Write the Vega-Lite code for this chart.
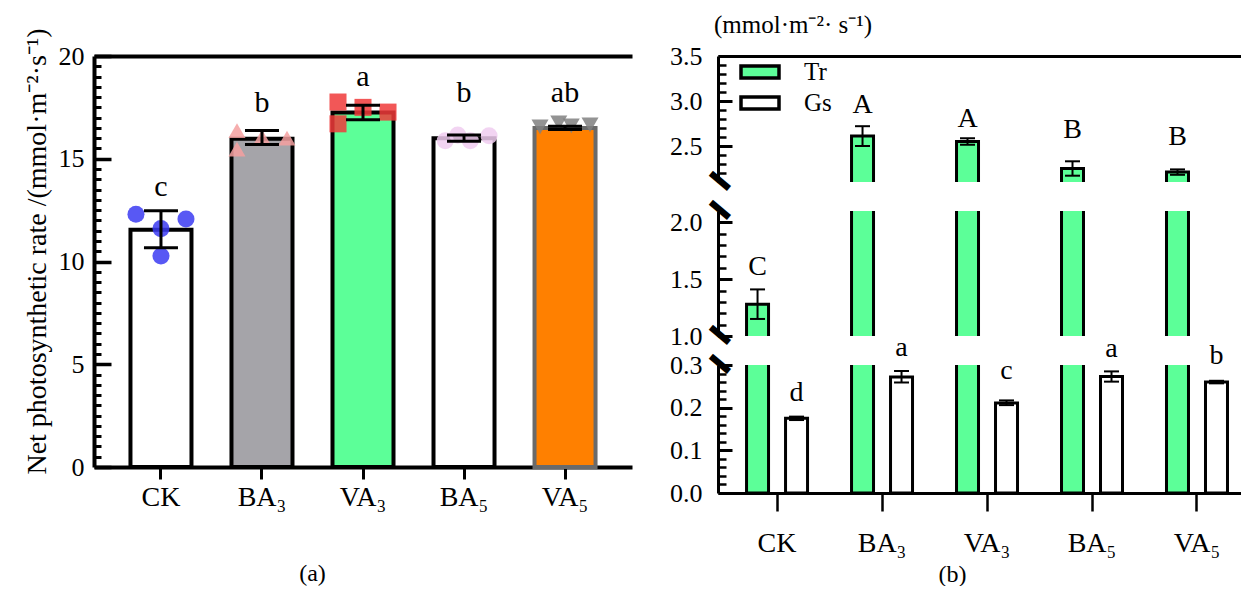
{
  "$schema": "https://vega.github.io/schema/vega-lite/v6.json",
  "background": "white",
  "padding": {"left": 22, "top": 13, "right": 0, "bottom": 0},
  "config": {
    "font": "Liberation Serif",
    "view": {"stroke": null},
    "axis": {"labelFont": "Liberation Serif", "titleFont": "Liberation Serif", "labelColor": "black", "titleColor": "black", "domainColor": "black", "tickColor": "black", "grid": false, "titleFontWeight": "normal", "labelFlush": false}
  },
  "datasets": {
    "ps": [
      {"trt": "CK", "mean": 11.55, "lo": 10.67, "hi": 12.47, "lab": 13.2, "sig": "c"},
      {"trt": "BA₃", "mean": 15.97, "lo": 15.69, "hi": 16.37, "lab": 17.27, "sig": "b"},
      {"trt": "VA₃", "mean": 17.25, "lo": 16.9, "hi": 17.6, "lab": 18.54, "sig": "a"},
      {"trt": "BA₅", "mean": 16.0, "lo": 15.85, "hi": 16.15, "lab": 17.76, "sig": "b"},
      {"trt": "VA₅", "mean": 16.5, "lo": 16.42, "hi": 16.58, "lab": 17.76, "sig": "ab"}
    ],
    "pts": [
      {"trt": "CK", "slot": "a", "val": 12.3},
      {"trt": "CK", "slot": "e", "val": 11.6},
      {"trt": "CK", "slot": "e", "val": 10.27},
      {"trt": "CK", "slot": "i", "val": 12.07},
      {"trt": "BA₃", "slot": "a", "val": 16.37},
      {"trt": "BA₃", "slot": "a", "val": 15.47},
      {"trt": "BA₃", "slot": "e", "val": 16.06},
      {"trt": "BA₃", "slot": "i", "val": 16.0},
      {"trt": "VA₃", "slot": "a", "val": 17.76},
      {"trt": "VA₃", "slot": "a", "val": 16.7},
      {"trt": "VA₃", "slot": "e", "val": 17.5},
      {"trt": "VA₃", "slot": "i", "val": 17.27},
      {"trt": "BA₅", "slot": "b", "val": 15.88},
      {"trt": "BA₅", "slot": "d", "val": 16.15},
      {"trt": "BA₅", "slot": "f", "val": 15.88},
      {"trt": "BA₅", "slot": "i", "val": 16.12},
      {"trt": "VA₅", "slot": "a", "val": 16.55},
      {"trt": "VA₅", "slot": "d", "val": 16.75},
      {"trt": "VA₅", "slot": "f", "val": 16.6},
      {"trt": "VA₅", "slot": "i", "val": 16.65}
    ],
    "rt": [
      {"trt": "CK", "series": "Tr", "val": 1.28, "lo": 1.15, "hi": 1.41, "lab": 1.533, "sig": "C"},
      {"trt": "BA₃", "series": "Tr", "val": 2.61, "lo": 2.5, "hi": 2.72, "lab": 2.863, "sig": "A"},
      {"trt": "VA₃", "series": "Tr", "val": 2.55, "lo": 2.515, "hi": 2.585, "lab": 2.716, "sig": "A"},
      {"trt": "BA₅", "series": "Tr", "val": 2.25, "lo": 2.17, "hi": 2.33, "lab": 2.586, "sig": "B"},
      {"trt": "VA₅", "series": "Tr", "val": 2.21, "lo": 2.18, "hi": 2.24, "lab": 2.511, "sig": "B"},
      {"trt": "CK", "series": "Gs", "val": 0.175, "lo": 0.171, "hi": 0.179, "lab": 0.216, "sig": "d"},
      {"trt": "BA₃", "series": "Gs", "val": 0.272, "lo": 0.259, "hi": 0.286, "lab": 0.322, "sig": "a"},
      {"trt": "VA₃", "series": "Gs", "val": 0.211, "lo": 0.206, "hi": 0.217, "lab": 0.267, "sig": "c"},
      {"trt": "BA₅", "series": "Gs", "val": 0.273, "lo": 0.261, "hi": 0.285, "lab": 0.318, "sig": "a"},
      {"trt": "VA₅", "series": "Gs", "val": 0.26, "lo": 0.257, "hi": 0.263, "lab": 0.302, "sig": "b"}
    ]
  },
  "hconcat": [
    {
      "width": 538,
      "height": 411,
      "layer": [
        {
          "data": {"name": "ps"},
          "mark": {"type": "bar", "strokeWidth": 4},
          "encoding": {
            "x": {"field": "trt", "type": "nominal", "sort": ["CK", "BA₃", "VA₃", "BA₅", "VA₅"], "scale": {"paddingInner": 0.396, "paddingOuter": 0.361},
              "axis": {"orient": "bottom", "labelAngle": 0, "labelFontSize": 28, "labelPadding": 4, "tickSize": 12, "tickWidth": 3, "domainWidth": 4, "title": "(a)", "titleX": 218, "titleY": 113, "titleAlign": "center", "titleBaseline": "alphabetic", "titleFontSize": 24}},
            "y": {"field": "mean", "type": "quantitative", "scale": {"domain": [0, 20], "nice": false},
              "axis": {"orient": "left", "values": [0, 5, 10, 15, 20], "tickSize": -17, "tickWidth": 3.5, "domainWidth": 4, "labelFontSize": 26, "labelPadding": 27, "title": "Net photosynthetic rate /(mmol·m⁻²·s⁻¹)", "titleFontSize": 28, "titleX": -57, "titleY": 195, "titleAlign": "center", "titleBaseline": "middle", "titleAngle": 270}},
            "fill": {"field": "trt", "type": "nominal", "scale": {"domain": ["CK", "BA₃", "VA₃", "BA₅", "VA₅"], "range": ["#FFFFFF", "#A5A4A9", "#5CFF98", "#FFFFFF", "#FF8000"]}, "legend": null},
            "stroke": {"field": "trt", "type": "nominal", "scale": {"domain": ["CK", "BA₃", "VA₃", "BA₅", "VA₅"], "range": ["#000000", "#000000", "#000000", "#000000", "#6A6A6A"]}, "legend": null}
          }
        },
        {
          "data": {"name": "pts"},
          "mark": {"type": "point", "filled": true, "size": 290, "opacity": 0.85},
          "encoding": {
            "x": {"field": "trt", "type": "nominal", "sort": ["CK", "BA₃", "VA₃", "BA₅", "VA₅"], "axis": null},
            "xOffset": {"field": "slot", "type": "nominal", "sort": ["a", "b", "c", "d", "e", "f", "g", "h", "i"], "scale": {"type": "point", "domain": ["a", "b", "c", "d", "e", "f", "g", "h", "i"], "padding": 0.88}},
            "y": {"field": "val", "type": "quantitative", "axis": null},
            "color": {"field": "trt", "type": "nominal", "scale": {"domain": ["CK", "BA₃", "VA₃", "BA₅", "VA₅"], "range": ["#3B3BF2", "#F4A0A0", "#F03A3A", "#F0CCF0", "#808080"]}, "legend": null},
            "shape": {"field": "trt", "type": "nominal", "scale": {"domain": ["CK", "BA₃", "VA₃", "BA₅", "VA₅"], "range": ["circle", "triangle-up", "square", "circle", "triangle-down"]}, "legend": null}
          }
        },
        {
          "data": {"name": "ps"},
          "mark": {"type": "rule", "strokeWidth": 3, "color": "black"},
          "encoding": {
            "x": {"field": "trt", "type": "nominal", "sort": ["CK", "BA₃", "VA₃", "BA₅", "VA₅"], "axis": null},
            "y": {"field": "lo", "type": "quantitative", "axis": {"orient": "left", "values": [0.5, 1, 1.5, 2, 2.5, 3, 3.5, 4, 4.5, 5.5, 6, 6.5, 7, 7.5, 8, 8.5, 9, 9.5, 10.5, 11, 11.5, 12, 12.5, 13, 13.5, 14, 14.5, 15.5, 16, 16.5, 17, 17.5, 18, 18.5, 19, 19.5], "labels": false, "domain": false, "tickSize": -7, "tickWidth": 3, "title": null}},
            "y2": {"field": "hi"}
          }
        },
        {
          "data": {"name": "ps"},
          "mark": {"type": "tick", "thickness": 3, "size": 34, "color": "black", "opacity": 1},
          "encoding": {
            "x": {"field": "trt", "type": "nominal", "sort": ["CK", "BA₃", "VA₃", "BA₅", "VA₅"], "axis": null},
            "y": {"field": "hi", "type": "quantitative", "axis": null}
          }
        },
        {
          "data": {"name": "ps"},
          "mark": {"type": "tick", "thickness": 3, "size": 34, "color": "black", "opacity": 1},
          "encoding": {
            "x": {"field": "trt", "type": "nominal", "sort": ["CK", "BA₃", "VA₃", "BA₅", "VA₅"], "axis": null},
            "y": {"field": "lo", "type": "quantitative", "axis": null}
          }
        },
        {
          "data": {"name": "ps"},
          "mark": {"type": "text", "fontSize": 30, "baseline": "alphabetic", "color": "black", "font": "Liberation Serif"},
          "encoding": {
            "x": {"field": "trt", "type": "nominal", "sort": ["CK", "BA₃", "VA₃", "BA₅", "VA₅"], "axis": {"orient": "top", "labels": false, "ticks": false, "title": null, "domainWidth": 4}},
            "y": {"field": "lab", "type": "quantitative", "axis": null},
            "text": {"field": "sig"}
          }
        }
      ],
      "resolve": {"axis": {"x": "independent", "y": "independent"}, "scale": {"xOffset": "independent"}}
    },
    {
      "vconcat": [
        {
          "width": 524,
          "height": 126,
          "title": {"text": "(mmol·m⁻²· s⁻¹)", "anchor": "start", "frame": "group", "fontSize": 25, "font": "Liberation Serif", "fontWeight": "normal", "offset": 5, "dx": -4, "color": "black"},
          "data": {"name": "rt"},
          "layer": [
            {
              "transform": [{"filter": {"field": "series", "equal": "Tr"}}],
              "mark": {"type": "bar", "clip": true, "stroke": "black", "strokeWidth": 3},
              "encoding": {
                "x": {"field": "trt", "type": "nominal", "sort": ["CK", "BA₃", "VA₃", "BA₅", "VA₅"], "scale": {"paddingInner": 0.419, "paddingOuter": 0.205, "align": 0.663},
                  "axis": {"orient": "top", "labels": false, "ticks": false, "title": null, "domainWidth": 3}},
                "xOffset": {"field": "series", "type": "nominal", "sort": ["Tr", "Gs"], "scale": {"paddingInner": 0.436, "paddingOuter": 0}},
                "y": {"field": "val", "type": "quantitative", "scale": {"domain": [2.1, 3.5], "zero": false, "nice": false},
                  "axis": {"orient": "left", "values": [2.5, 3.0, 3.5], "format": ".1f", "tickSize": -14, "tickWidth": 3, "domainWidth": 3, "labelFontSize": 26, "labelPadding": 30, "title": null}},
                "y2": {"datum": 0},
                "fill": {"field": "series", "type": "nominal", "scale": {"domain": ["Tr", "Gs"], "range": ["#5CFF98", "#FFFFFF"]},
                  "legend": {"title": null, "orient": "none", "legendX": 27.5, "legendY": 1.5, "symbolType": "M-1.52,-0.48H1.52V0.48H-1.52Z", "symbolSize": 625, "symbolStrokeColor": "black", "symbolStrokeWidth": 3.5, "labelFontSize": 25, "labelFont": "Liberation Serif", "labelColor": "black", "labelOffset": 29.5, "rowPadding": 3, "padding": 0}}
              }
            },
            {
              "mark": {"type": "rule", "clip": true, "strokeWidth": 2, "color": "black"},
              "encoding": {
                "x": {"field": "trt", "type": "nominal", "sort": ["CK", "BA₃", "VA₃", "BA₅", "VA₅"], "axis": null},
                "xOffset": {"field": "series", "type": "nominal", "sort": ["Tr", "Gs"]},
                "y": {"field": "lo", "type": "quantitative", "axis": {"orient": "left", "values": [2.2, 2.3, 2.4, 2.6, 2.7, 2.8, 2.9, 3.1, 3.2, 3.3, 3.4], "labels": false, "domain": false, "tickSize": -8, "tickWidth": 2.5, "title": null}},
                "y2": {"field": "hi"}
              }
            },
            {
              "mark": {"type": "tick", "clip": true, "thickness": 2, "size": 15, "color": "black", "opacity": 1},
              "encoding": {
                "x": {"field": "trt", "type": "nominal", "sort": ["CK", "BA₃", "VA₃", "BA₅", "VA₅"], "axis": null},
                "xOffset": {"field": "series", "type": "nominal", "sort": ["Tr", "Gs"]},
                "y": {"field": "hi", "type": "quantitative", "axis": null}
              }
            },
            {
              "mark": {"type": "tick", "clip": true, "thickness": 2, "size": 15, "color": "black", "opacity": 1},
              "encoding": {
                "x": {"field": "trt", "type": "nominal", "sort": ["CK", "BA₃", "VA₃", "BA₅", "VA₅"], "axis": null},
                "xOffset": {"field": "series", "type": "nominal", "sort": ["Tr", "Gs"]},
                "y": {"field": "lo", "type": "quantitative", "axis": null}
              }
            },
            {
              "transform": [{"filter": {"field": "lab", "range": [2.1, 3.6]}}],
              "mark": {"type": "text", "fontSize": 28, "baseline": "alphabetic", "color": "black", "font": "Liberation Serif"},
              "encoding": {
                "x": {"field": "trt", "type": "nominal", "sort": ["CK", "BA₃", "VA₃", "BA₅", "VA₅"], "axis": null},
                "xOffset": {"field": "series", "type": "nominal", "sort": ["Tr", "Gs"]},
                "y": {"field": "lab", "type": "quantitative", "axis": {"orient": "left", "values": [2.1], "labelExpr": "'━'", "labelAngle": 40, "labelAlign": "center", "labelBaseline": "middle", "labelFont": "DejaVu Sans Mono", "labelFontSize": 38, "labelPadding": 0, "ticks": false, "domain": false, "labelOverlap": false, "title": null}},
                "text": {"field": "sig"}
              }
            }
          ],
          "resolve": {"axis": {"x": "independent", "y": "independent"}}
        },
        {
          "width": 524,
          "height": 125,
          "data": {"name": "rt"},
          "layer": [
            {
              "transform": [{"filter": {"field": "series", "equal": "Tr"}}],
              "mark": {"type": "bar", "clip": true, "stroke": "black", "strokeWidth": 3},
              "encoding": {
                "x": {"field": "trt", "type": "nominal", "sort": ["CK", "BA₃", "VA₃", "BA₅", "VA₅"], "scale": {"paddingInner": 0.419, "paddingOuter": 0.205, "align": 0.663}, "axis": null},
                "xOffset": {"field": "series", "type": "nominal", "sort": ["Tr", "Gs"], "scale": {"paddingInner": 0.436, "paddingOuter": 0}},
                "y": {"field": "val", "type": "quantitative", "scale": {"domain": [1.0, 2.1], "zero": false, "nice": false},
                  "axis": {"orient": "left", "values": [1.0, 1.5, 2.0], "format": ".1f", "tickSize": -14, "tickWidth": 3, "domainWidth": 3, "labelFontSize": 26, "labelPadding": 30, "title": null}},
                "y2": {"datum": 0},
                "fill": {"field": "series", "type": "nominal", "scale": {"domain": ["Tr", "Gs"], "range": ["#5CFF98", "#FFFFFF"]},
                  "legend": {"title": null, "orient": "none", "legendX": 27.5, "legendY": 1.5, "symbolType": "M-1.52,-0.48H1.52V0.48H-1.52Z", "symbolSize": 625, "symbolStrokeColor": "black", "symbolStrokeWidth": 3.5, "labelFontSize": 25, "labelFont": "Liberation Serif", "labelColor": "black", "labelOffset": 29.5, "rowPadding": 3, "padding": 0}}
              }
            },
            {
              "mark": {"type": "rule", "clip": true, "strokeWidth": 2, "color": "black"},
              "encoding": {
                "x": {"field": "trt", "type": "nominal", "sort": ["CK", "BA₃", "VA₃", "BA₅", "VA₅"], "axis": null},
                "xOffset": {"field": "series", "type": "nominal", "sort": ["Tr", "Gs"]},
                "y": {"field": "lo", "type": "quantitative", "axis": {"orient": "left", "values": [1.1, 1.2, 1.3, 1.4, 1.6, 1.7, 1.8, 1.9], "labels": false, "domain": false, "tickSize": -8, "tickWidth": 2.5, "title": null}},
                "y2": {"field": "hi"}
              }
            },
            {
              "mark": {"type": "tick", "clip": true, "thickness": 2, "size": 15, "color": "black", "opacity": 1},
              "encoding": {
                "x": {"field": "trt", "type": "nominal", "sort": ["CK", "BA₃", "VA₃", "BA₅", "VA₅"], "axis": null},
                "xOffset": {"field": "series", "type": "nominal", "sort": ["Tr", "Gs"]},
                "y": {"field": "hi", "type": "quantitative", "axis": null}
              }
            },
            {
              "mark": {"type": "tick", "clip": true, "thickness": 2, "size": 15, "color": "black", "opacity": 1},
              "encoding": {
                "x": {"field": "trt", "type": "nominal", "sort": ["CK", "BA₃", "VA₃", "BA₅", "VA₅"], "axis": null},
                "xOffset": {"field": "series", "type": "nominal", "sort": ["Tr", "Gs"]},
                "y": {"field": "lo", "type": "quantitative", "axis": null}
              }
            },
            {
              "transform": [{"filter": {"field": "lab", "range": [1.0, 2.1]}}],
              "mark": {"type": "text", "fontSize": 28, "baseline": "alphabetic", "color": "black", "font": "Liberation Serif"},
              "encoding": {
                "x": {"field": "trt", "type": "nominal", "sort": ["CK", "BA₃", "VA₃", "BA₅", "VA₅"], "axis": null},
                "xOffset": {"field": "series", "type": "nominal", "sort": ["Tr", "Gs"]},
                "y": {"field": "lab", "type": "quantitative", "axis": {"orient": "left", "values": [1.0, 2.1], "labelExpr": "'━'", "labelAngle": 40, "labelAlign": "center", "labelBaseline": "middle", "labelFont": "DejaVu Sans Mono", "labelFontSize": 38, "labelPadding": 0, "ticks": false, "domain": false, "labelOverlap": false, "title": null}},
                "text": {"field": "sig"}
              }
            }
          ],
          "resolve": {"axis": {"x": "independent", "y": "independent"}}
        },
        {
          "width": 524,
          "height": 128,
          "data": {"name": "rt"},
          "layer": [
            {
              "mark": {"type": "bar", "clip": true, "stroke": "black", "strokeWidth": 3},
              "encoding": {
                "x": {"field": "trt", "type": "nominal", "sort": ["CK", "BA₃", "VA₃", "BA₅", "VA₅"], "scale": {"paddingInner": 0.419, "paddingOuter": 0.205, "align": 0.663},
                  "axis": {"orient": "bottom", "labelAngle": 0, "labelFontSize": 28, "labelPadding": 18, "tickSize": 18, "tickWidth": 2.5, "domainWidth": 3, "title": "(b)", "titleX": 234, "titleY": 88, "titleAlign": "center", "titleBaseline": "alphabetic", "titleFontSize": 24}},
                "xOffset": {"field": "series", "type": "nominal", "sort": ["Tr", "Gs"], "scale": {"paddingInner": 0.436, "paddingOuter": 0}},
                "y": {"field": "val", "type": "quantitative", "scale": {"domain": [0, 0.3], "zero": false, "nice": false},
                  "axis": {"orient": "left", "values": [0, 0.1, 0.2, 0.3], "format": ".1f", "tickSize": -14, "tickWidth": 3, "domainWidth": 3, "labelFontSize": 26, "labelPadding": 30, "title": null}},
                "y2": {"datum": 0},
                "fill": {"field": "series", "type": "nominal", "scale": {"domain": ["Tr", "Gs"], "range": ["#5CFF98", "#FFFFFF"]},
                  "legend": {"title": null, "orient": "none", "legendX": 27.5, "legendY": 1.5, "symbolType": "M-1.52,-0.48H1.52V0.48H-1.52Z", "symbolSize": 625, "symbolStrokeColor": "black", "symbolStrokeWidth": 3.5, "labelFontSize": 25, "labelFont": "Liberation Serif", "labelColor": "black", "labelOffset": 29.5, "rowPadding": 3, "padding": 0}}
              }
            },
            {
              "mark": {"type": "rule", "clip": true, "strokeWidth": 2, "color": "black"},
              "encoding": {
                "x": {"field": "trt", "type": "nominal", "sort": ["CK", "BA₃", "VA₃", "BA₅", "VA₅"], "axis": null},
                "xOffset": {"field": "series", "type": "nominal", "sort": ["Tr", "Gs"]},
                "y": {"field": "lo", "type": "quantitative", "axis": {"orient": "left", "values": [0.02, 0.04, 0.06, 0.08, 0.12, 0.14, 0.16, 0.18, 0.22, 0.24, 0.26, 0.28], "labels": false, "domain": false, "tickSize": -8, "tickWidth": 2.5, "title": null}},
                "y2": {"field": "hi"}
              }
            },
            {
              "mark": {"type": "tick", "clip": true, "thickness": 2, "size": 15, "color": "black", "opacity": 1},
              "encoding": {
                "x": {"field": "trt", "type": "nominal", "sort": ["CK", "BA₃", "VA₃", "BA₅", "VA₅"], "axis": null},
                "xOffset": {"field": "series", "type": "nominal", "sort": ["Tr", "Gs"]},
                "y": {"field": "hi", "type": "quantitative", "axis": null}
              }
            },
            {
              "mark": {"type": "tick", "clip": true, "thickness": 2, "size": 15, "color": "black", "opacity": 1},
              "encoding": {
                "x": {"field": "trt", "type": "nominal", "sort": ["CK", "BA₃", "VA₃", "BA₅", "VA₅"], "axis": null},
                "xOffset": {"field": "series", "type": "nominal", "sort": ["Tr", "Gs"]},
                "y": {"field": "lo", "type": "quantitative", "axis": null}
              }
            },
            {
              "transform": [{"filter": {"field": "series", "equal": "Gs"}}],
              "mark": {"type": "text", "fontSize": 28, "baseline": "alphabetic", "color": "black", "font": "Liberation Serif"},
              "encoding": {
                "x": {"field": "trt", "type": "nominal", "sort": ["CK", "BA₃", "VA₃", "BA₅", "VA₅"], "axis": null},
                "xOffset": {"field": "series", "type": "nominal", "sort": ["Tr", "Gs"]},
                "y": {"field": "lab", "type": "quantitative", "axis": {"orient": "left", "values": [0.3], "labelExpr": "'━'", "labelAngle": 40, "labelAlign": "center", "labelBaseline": "middle", "labelFont": "DejaVu Sans Mono", "labelFontSize": 38, "labelPadding": 0, "ticks": false, "domain": false, "labelOverlap": false, "title": null}},
                "text": {"field": "sig"}
              }
            }
          ],
          "resolve": {"axis": {"x": "independent", "y": "independent"}}
        }
      ],
      "spacing": 29,
      "bounds": "flush"
    }
  ],
  "spacing": 86,
  "bounds": "flush",
  "resolve": {"scale": {"fill": "independent", "stroke": "independent", "color": "independent", "shape": "independent"}}
}
